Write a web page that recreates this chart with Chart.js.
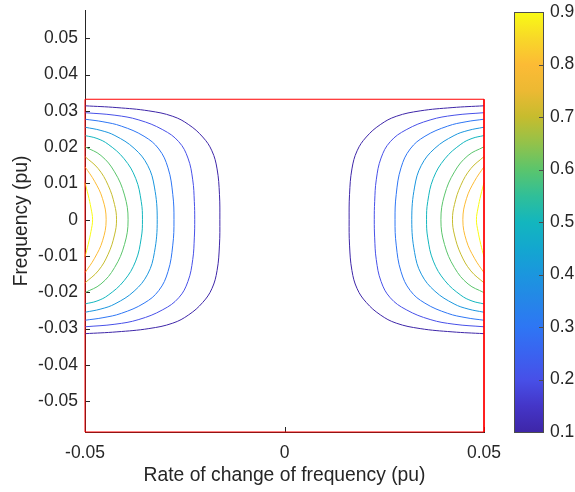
<!DOCTYPE html>
<html lang="en">
<head>
<meta charset="UTF-8" />
<title>Contour map</title>
<script src="https://cdn.jsdelivr.net/npm/chart.js@4.4.1/dist/chart.umd.min.js"></script>
<style>
  html, body { margin: 0; padding: 0; background: #fff; }
  #wrap { width: 575px; height: 492px; }
</style>
</head>
<body>
<div id="wrap"><canvas id="myChart" width="575" height="492"></canvas></div>
<script>
// axis ticks
const xTicks = [-0.05, 0, 0.05];
const yTicks = [-0.05, -0.04, -0.03, -0.02, -0.01, 0, 0.01, 0.02, 0.03, 0.04, 0.05];
const cbTicks = [0.1, 0.2, 0.3, 0.4, 0.5, 0.6, 0.7, 0.8, 0.9];

// parula colour map, bottom to top
const parula = ['#3e26a8', '#4436c8', '#4750e8', '#3a63f0', '#2e76f4', '#2586e8', '#1b96de', '#13a7cf',
  '#13b6be', '#30bf98', '#5bc56c', '#93c24a', '#c6bc2e', '#ecb933', '#fcbb35', '#f8d828', '#f9fb14'];

// contour levels, coloured from the map
const levels = [0.1, 0.2, 0.3, 0.4, 0.5, 0.6, 0.7, 0.8, 0.9];
const levelColors = levels.map((lv, i) => parula[i * 2]);

// upper-left quarter of each contour, from the left edge down to frequency 0
const q10 = [[-0.0500, 0.0314], [-0.0420, 0.0309], [-0.0340, 0.0300], [-0.0280, 0.0285], [-0.0240, 0.0262], [-0.0205, 0.0228], [-0.0182, 0.0190], [-0.0169, 0.0140], [-0.0163, 0.0070], [-0.0162, 0]];
const q20 = [[-0.0500, 0.0295], [-0.0425, 0.0288], [-0.0365, 0.0275], [-0.0305, 0.0248], [-0.0265, 0.0215], [-0.0242, 0.0170], [-0.0230, 0.0110], [-0.0226, 0.0050], [-0.0225, 0]];
const q30 = [[-0.0500, 0.0277], [-0.0455, 0.0270], [-0.0409, 0.0258], [-0.0352, 0.0230], [-0.0315, 0.0195], [-0.0292, 0.0143], [-0.0280, 0.0070], [-0.0277, 0]];
const q40 = [[-0.0500, 0.0255], [-0.0460, 0.0246], [-0.0425, 0.0232], [-0.0377, 0.0197], [-0.0343, 0.0150], [-0.0326, 0.0090], [-0.0319, 0]];
const q50 = [[-0.0500, 0.0232], [-0.0470, 0.0224], [-0.0442, 0.0208], [-0.0402, 0.0168], [-0.0373, 0.0114], [-0.0359, 0.0050], [-0.0356, 0]];
const q60 = [[-0.0500, 0.0201], [-0.0460, 0.0177], [-0.0426, 0.0132], [-0.0401, 0.0068], [-0.0392, 0]];
const q70 = [[-0.0500, 0.0174], [-0.0467, 0.0141], [-0.0442, 0.0095], [-0.0426, 0.0042], [-0.0421, 0]];
const q80 = [[-0.0500, 0.0146], [-0.0476, 0.0106], [-0.0456, 0.0058], [-0.0447, 0]];
const q90 = [[-0.0500, 0.0102], [-0.0492, 0.0068], [-0.0485, 0.0032], [-0.0481, 0]];
const quarters = [q10, q20, q30, q40, q50, q60, q70, q80, q90];

// red boundary box
const boxX = [-0.05, 0.05];
const boxY = [-0.0585, 0.0332];

// mirror a quarter into a full curve on one side (sx = 1 left, -1 right)
function fullCurve(q, sx) {
  const upper = q.map(p => ({ x: sx * p[0], y: p[1] }));
  const lower = q.slice(0, -1).reverse().map(p => ({ x: sx * p[0], y: -p[1] }));
  return upper.concat(lower);
}

const datasets = [{
  data: [
    { x: boxX[0], y: boxY[1] }, { x: boxX[1], y: boxY[1] },
    { x: boxX[1], y: boxY[0] }, { x: boxX[0], y: boxY[0] },
    { x: boxX[0], y: boxY[1] }
  ],
  borderColor: '#ff0000',
  tension: 0,
  clip: 3
}];
levels.forEach((lv, i) => {
  [1, -1].forEach(sx => {
    datasets.push({ label: String(lv), data: fullCurve(quarters[i], sx), borderColor: levelColors[i], clip: 2 });
  });
});

const axisColor = '#262626';
const tickFont = { family: "'Liberation Sans', Arial, sans-serif", size: 17.5 };
const titleFont = { family: "'Liberation Sans', Arial, sans-serif", size: 19.3 };

// fixed box sizes so the plot area lands where it should
function fixBox(size) {
  return s => {
    if (s.isHorizontal()) s.height = size; else s.width = size;
    s.paddingTop = 0; s.paddingBottom = 0; s.paddingLeft = 0; s.paddingRight = 0;
  };
}

// inward tick marks and the colour bar
const axisExtras = {
  id: 'axisExtras',
  beforeDatasetsDraw(chart) {
    const { ctx, chartArea: a, scales: { x, y } } = chart;
    ctx.save();
    ctx.strokeStyle = axisColor;
    ctx.lineWidth = 1;
    ctx.beginPath();
    xTicks.forEach(v => {
      const px = Math.round(x.getPixelForValue(v)) + 0.5;
      ctx.moveTo(px, a.bottom); ctx.lineTo(px, a.bottom - 5);
    });
    yTicks.forEach(v => {
      const py = Math.round(y.getPixelForValue(v)) + 0.5;
      ctx.moveTo(a.left, py); ctx.lineTo(a.left + 5, py);
    });
    ctx.stroke();
    ctx.restore();
  },
  afterDraw(chart) {
    const { ctx, chartArea: a, scales: { cb } } = chart;
    const barL = Math.round(a.right) + 30, barW = 29;
    const top = Math.round(cb.getPixelForValue(0.9));
    const bot = Math.round(cb.getPixelForValue(0.1));
    ctx.save();
    const grad = ctx.createLinearGradient(0, bot, 0, top);
    parula.forEach((c, i) => grad.addColorStop(i / (parula.length - 1), c));
    ctx.fillStyle = grad;
    ctx.fillRect(barL, top, barW, bot - top);
    ctx.strokeStyle = '#4d4d4d';
    ctx.lineWidth = 1;
    ctx.strokeRect(barL + 0.5, top + 0.5, barW, bot - top);
    ctx.beginPath();
    cbTicks.forEach(v => {
      const py = Math.round(cb.getPixelForValue(v)) + 0.5;
      ctx.moveTo(barL + barW, py); ctx.lineTo(barL + barW - 4, py);
    });
    ctx.stroke();
    ctx.restore();
  }
};

const ctx = document.getElementById('myChart').getContext('2d');
const myChart = new Chart(ctx, {
  type: 'scatter',
  data: { datasets: datasets },
  plugins: [axisExtras],
  options: {
    responsive: false,
    animation: false,
    layout: { padding: { top: 10 } },
    plugins: { legend: { display: false }, tooltip: { enabled: false } },
    elements: {
      point: { radius: 0 },
      line: { borderWidth: 1, tension: 0.4 }
    },
    datasets: { scatter: { showLine: true } },
    scales: {
      x: {
        type: 'linear', min: -0.05, max: 0.05,
        afterBuildTicks: s => { s.ticks = xTicks.map(v => ({ value: v })); },
        afterFit: fixBox(60),
        grid: { display: false, drawTicks: false },
        border: { color: axisColor },
        ticks: { font: tickFont, color: axisColor, padding: 11, maxRotation: 0,
          callback: v => v === 0 ? '0' : v.toFixed(2) },
        title: { display: true, text: 'Rate of change of frequency (pu)', font: titleFont,
          color: axisColor, padding: { top: 0, bottom: 5 } }
      },
      y: {
        type: 'linear', min: boxY[0], max: 0.0578,
        afterBuildTicks: s => { s.ticks = yTicks.map(v => ({ value: v })); },
        afterFit: fixBox(85),
        grid: { display: false, drawTicks: false },
        border: { color: axisColor },
        ticks: { font: tickFont, color: axisColor, padding: 7,
          callback: v => v === 0 ? '0' : v.toFixed(2) },
        title: { display: true, text: 'Frequency (pu)', font: titleFont,
          color: axisColor, padding: { top: 10, bottom: 0 } }
      },
      cb: {
        type: 'linear', position: 'right', min: 0.1, max: 0.904,
        afterBuildTicks: s => { s.ticks = cbTicks.map(v => ({ value: v })); },
        afterFit: fixBox(91),
        grid: { display: false, drawTicks: false },
        border: { display: false },
        ticks: { font: tickFont, color: axisColor, padding: 66,
          callback: v => v.toFixed(1) }
      }
    }
  }
});
</script>
</body>
</html>
